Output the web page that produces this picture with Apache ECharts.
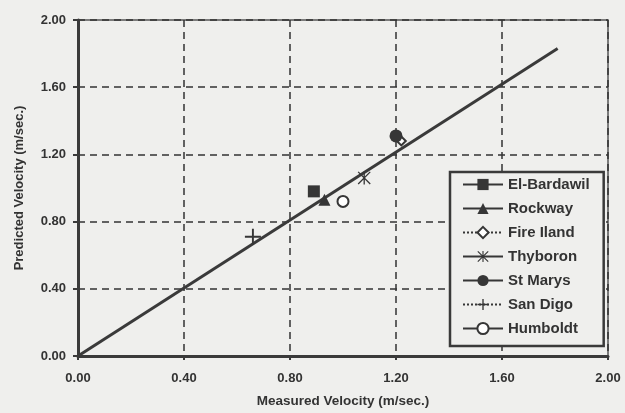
<!DOCTYPE html>
<html><head><meta charset="utf-8">
<script src="https://cdn.jsdelivr.net/npm/echarts@6/dist/echarts.min.js"></script>
<style>html,body{margin:0;padding:0;background:#efefed}#c{width:625px;height:413px}</style>
</head><body><div id="c"></div>
<script>
var axisTicks = [0, 0.4, 0.8, 1.2, 1.6, 2.0];
var stationNames = ['El-Bardawil', 'Rockway', 'Fire Iland', 'Thyboron', 'St Marys', 'San Digo', 'Humboldt'];
var measured = [0.89, 0.93, 1.22, 1.08, 1.20, 0.66, 1.00];
var predicted = [0.98, 0.93, 1.28, 1.06, 1.31, 0.71, 0.92];
var fitLineX = [0, 1.81];
var fitLineY = [0, 1.83];

var ink = '#363636';
var asterisk = 'path://M45,0 L55,0 L55,100 L45,100 Z M0,7 L7,0 L100,93 L93,100 Z M93,0 L100,7 L7,100 L0,93 Z';
var plus = 'path://M44,0 L56,0 L56,44 L100,44 L100,56 L56,56 L56,100 L44,100 L44,56 L0,56 L0,44 L44,44 Z';
var symbols = ['rect', 'triangle', 'emptyDiamond', asterisk, 'circle', plus, 'emptyCircle'];
var sizes = [12, 12, 9, 13, 13, 16, 11];
var lineTypes = ['solid', 'solid', 'dotted', 'solid', 'solid', 'dotted', 'solid'];
var lineWidths = [2.5, 2.5, 1.5, 2, 2.5, 1.5, 2];

var series = [{
  type: 'line', name: 'fit', silent: true, symbol: 'none',
  data: fitLineX.map(function (x, i) { return [x, fitLineY[i]]; }),
  lineStyle: { color: '#3a3a3a', width: 3 }, z: 3
}];
stationNames.forEach(function (n, i) {
  series.push({
    type: 'line', name: n, data: [[measured[i], predicted[i]]],
    symbol: symbols[i], symbolSize: sizes[i], z: 5,
    itemStyle: { color: ink, borderColor: ink, borderWidth: symbols[i].indexOf('empty') === 0 ? 2 : 0 },
    lineStyle: { color: ink, width: lineWidths[i], type: lineTypes[i] }
  });
});

var chart = echarts.init(document.getElementById('c'));
var lbl = { color: '#333', fontFamily: 'Liberation Sans, Arial', fontWeight: 'bold', fontSize: 13 };
chart.setOption({
  backgroundColor: '#efefed',
  animation: false,
  grid: { left: 78, right: 17, top: 20, bottom: 54, show: true, borderColor: '#555', borderWidth: 1.5, backgroundColor: 'transparent' },
  xAxis: {
    type: 'value', min: 0, max: 2, interval: 0.4,
    name: 'Measured Velocity (m/sec.)', nameLocation: 'middle', nameGap: 38,
    nameTextStyle: { color: '#333', fontFamily: 'Liberation Sans, Arial', fontWeight: 'bold', fontSize: 13.5 },
    axisLine: { onZero: false, lineStyle: { color: '#3a3a3a', width: 3 } },
    axisTick: { length: 4, lineStyle: { color: '#3a3a3a', width: 2 } },
    axisLabel: Object.assign({ margin: 16, formatter: function (v) { return v.toFixed(2); } }, lbl),
    splitLine: { show: true, lineStyle: { color: '#333', width: 1.5, type: [7, 5] } }
  },
  yAxis: {
    type: 'value', min: 0, max: 2, interval: 0.4,
    name: 'Predicted Velocity (m/sec.)', nameLocation: 'middle', nameGap: 52,
    nameTextStyle: { color: '#333', fontFamily: 'Liberation Sans, Arial', fontWeight: 'bold', fontSize: 13 },
    axisLine: { onZero: false, lineStyle: { color: '#3a3a3a', width: 3 } },
    axisTick: { length: 5, lineStyle: { color: '#3a3a3a', width: 2 } },
    axisLabel: Object.assign({ margin: 12, formatter: function (v) { return v.toFixed(2); } }, lbl),
    splitLine: { show: true, lineStyle: { color: '#333', width: 1.5, type: [7, 5] } }
  },
  legend: {
    data: stationNames, orient: 'vertical', left: 450, top: 172,
    padding: [5, 14, 10, 12], itemWidth: 40, itemHeight: 14, itemGap: 9,
    backgroundColor: '#efefed', borderColor: '#3a3a3a', borderWidth: 2.5,
    textStyle: { color: '#333', fontFamily: 'Liberation Sans, Arial', fontWeight: 'bold', fontSize: 15 }
  },
  series: series
});
</script></body></html>
